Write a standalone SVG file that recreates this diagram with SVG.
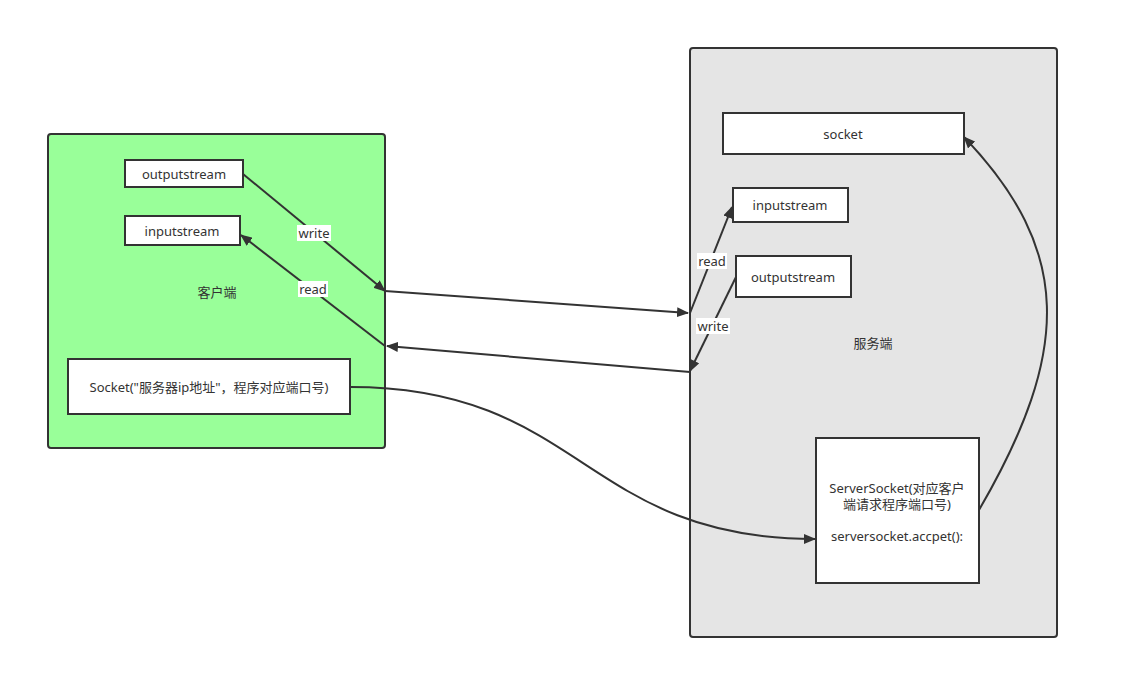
<svg xmlns="http://www.w3.org/2000/svg" width="1140" height="700" viewBox="0 0 1140 700">
<defs>
<marker id="arr" viewBox="0 0 12 10" refX="11" refY="5" markerWidth="12" markerHeight="10" markerUnits="userSpaceOnUse" orient="auto">
<path d="M0,0 L12,5 L0,10 Z" fill="#333"/>
</marker>
<style>
.t{font-family:"Noto Sans","Noto Sans CJK SC",sans-serif;font-size:13px;fill:#333;text-anchor:middle;dominant-baseline:central}
.box{fill:#fff;stroke:#333;stroke-width:2}
.c{fill:none;stroke:#333;stroke-width:2;marker-end:url(#arr)}
.lb{fill:#fff}
</style>
</defs>
<rect width="1140" height="700" fill="#fff"/>
<g id="client">
<rect x="48" y="134" width="337" height="314" rx="3" fill="#99FF99" stroke="#333" stroke-width="2"/>
<text class="t" x="217" y="292">客户端</text>
</g>
<g id="server">
<rect x="690" y="48" width="367" height="589" rx="3" fill="#E5E5E5" stroke="#333" stroke-width="2"/>
<text class="t" x="873" y="343">服务端</text>
</g>
<g id="c-outputstream">
<rect class="box" x="125" y="160" width="118" height="27"/>
<text class="t" x="184" y="174">outputstream</text>
</g>
<g id="c-inputstream">
<rect class="box" x="125" y="216" width="115" height="29"/>
<text class="t" x="182" y="231">inputstream</text>
</g>
<g id="c-socket">
<rect class="box" x="68" y="359" width="282" height="55"/>
<text class="t" x="209" y="387">Socket("服务器ip地址"，程序对应端口号)</text>
</g>
<g id="s-socket">
<rect class="box" x="723" y="113" width="241" height="41"/>
<text class="t" x="843" y="134">socket</text>
</g>
<g id="s-inputstream">
<rect class="box" x="733" y="188" width="115" height="34"/>
<text class="t" x="790" y="205">inputstream</text>
</g>
<g id="s-outputstream">
<rect class="box" x="736" y="256" width="115" height="41"/>
<text class="t" x="793" y="277">outputstream</text>
</g>
<g id="s-serversocket">
<rect class="box" x="816" y="438" width="163" height="145"/>
<text class="t" x="897" y="488">ServerSocket(对应客户</text>
<text class="t" x="897" y="504">端请求程序端口号)</text>
<text class="t" x="897" y="536">serversocket.accpet():</text>
</g>
<g id="connectors">
<path class="c" d="M243,174 L385,291"/>
<path class="c" d="M385,291 L688,313"/>
<path class="c" d="M690,313 L732,207"/>
<path class="c" d="M736,277 L690,371"/>
<path class="c" d="M690,372 L387,346"/>
<path class="c" d="M385,346 L241,235"/>
<path class="c" d="M350,387 C583,387 583,539 815,539"/>
<path class="c" d="M979,510 C1072,350 1072,250 964,137"/>
<rect class="lb" x="297" y="225" width="34" height="16"/>
<text class="t" x="314" y="233">write</text>
<rect class="lb" x="298" y="281" width="30" height="16"/>
<text class="t" x="313" y="289">read</text>
<rect class="lb" x="697" y="253" width="30" height="16"/>
<text class="t" x="712" y="261">read</text>
<rect class="lb" x="696" y="318" width="34" height="16"/>
<text class="t" x="713" y="326">write</text>
</g>
</svg>
